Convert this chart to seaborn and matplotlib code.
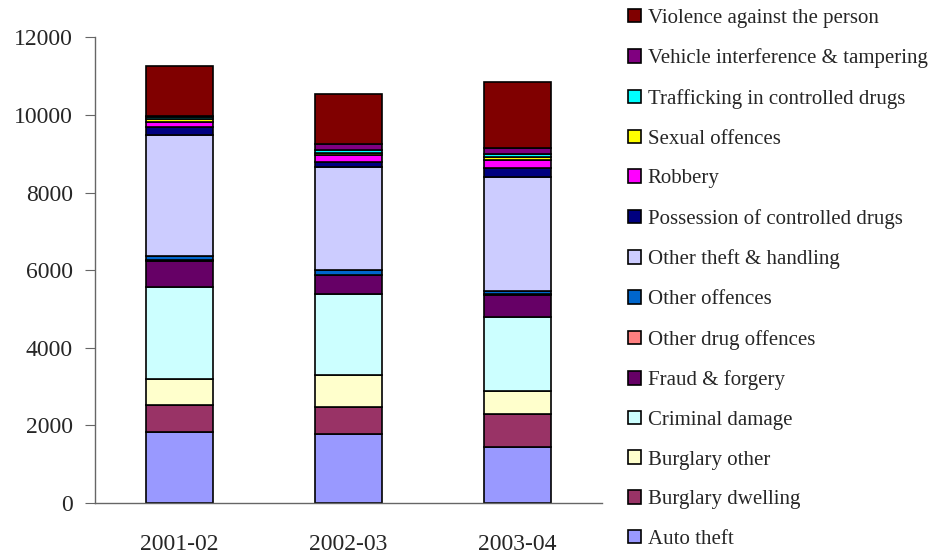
import pandas as pd
import numpy as np
import matplotlib.pyplot as plt
import seaborn as sns

# --- data ---
years = ["2001-02", "2002-03", "2003-04"]

auto_theft = [1830, 1790, 1430]
burglary_dwelling = [690, 680, 860]
burglary_other = [670, 825, 600]
criminal_damage = [2365, 2080, 1890]
fraud_forgery = [680, 490, 590]
other_drug = [20, 20, 20]
other_offences = [115, 115, 75]
other_theft = [3115, 2665, 2925]
possession = [215, 130, 230]
robbery = [110, 170, 230]
sexual = [75, 50, 65]
trafficking = [60, 80, 70]
vehicle = [40, 155, 170]
violence = [1265, 1280, 1690]

# legend order (top of stack first)
offences = [
    "Violence against the person",
    "Vehicle interference & tampering",
    "Trafficking in controlled drugs",
    "Sexual offences",
    "Robbery",
    "Possession of controlled drugs",
    "Other theft & handling",
    "Other offences",
    "Other drug offences",
    "Fraud & forgery",
    "Criminal damage",
    "Burglary other",
    "Burglary dwelling",
    "Auto theft",
]
series = [violence, vehicle, trafficking, sexual, robbery, possession, other_theft,
          other_offences, other_drug, fraud_forgery, criminal_damage, burglary_other,
          burglary_dwelling, auto_theft]
colors = ["#800000", "#800080", "#00FFFF", "#FFFF00", "#FF00FF", "#000080", "#CCCCFF",
          "#0066CC", "#FF8080", "#660066", "#CCFFFF", "#FFFFCC", "#993366", "#9999FF"]

rows = []
for name, vals in zip(offences, series):
    for yr, v in zip(years, vals):
        rows.append({"year": yr, "offence": name, "count": v})
df = pd.DataFrame(rows)

# --- plotting ---
sns.set_style("white")
plt.rcParams["font.family"] = ["Liberation Serif", "DejaVu Serif"]
plt.rcParams["font.size"] = 16

fig = plt.figure(figsize=(9.37, 5.57), dpi=100)
ax = fig.add_axes([0.1014, 0.097, 0.541, 0.836])

sns.histplot(data=df, x="year", weights="count", hue="offence", hue_order=offences,
             multiple="stack", discrete=True, shrink=0.4, palette=colors,
             edgecolor="black", linewidth=1.2, alpha=1, ax=ax)

ax.set_xlim(-0.5, 2.5)
ax.set_ylim(0, 12000)
ax.set_yticks(np.arange(0, 12001, 2000))
ax.set_xlabel("")
ax.set_ylabel("")
for s in ["top", "right"]:
    ax.spines[s].set_visible(False)
for s in ["left", "bottom"]:
    ax.spines[s].set_color("#666666")
    ax.spines[s].set_linewidth(1.0)

ax.set_xticks([0, 1, 2])
ax.set_xticklabels(years)
ax.set_xticks([-0.5, 0.5, 1.5, 2.5], minor=True)
ax.tick_params(axis="x", which="major", length=0, pad=22, labelsize=17)
ax.tick_params(axis="x", which="minor", length=7, direction="out", color="#666666")
ax.tick_params(axis="y", length=7, direction="out", color="#666666", labelsize=17, pad=9)
ax.tick_params(left=True)

leg = ax.get_legend()
handles = leg.legend_handles
labels = [t.get_text() for t in leg.get_texts()]
leg.remove()
for h in handles:
    h.set_edgecolor("black")
    h.set_linewidth(1.2)
fig.legend(handles, labels, loc="upper left", bbox_to_anchor=(0.668, 0.988),
           frameon=False, fontsize=15.0, handlelength=0.62, handleheight=0.62,
           handletextpad=0.32, labelspacing=0.99, borderaxespad=0.0, borderpad=0.1)

fig.savefig("out.png", dpi=100)
